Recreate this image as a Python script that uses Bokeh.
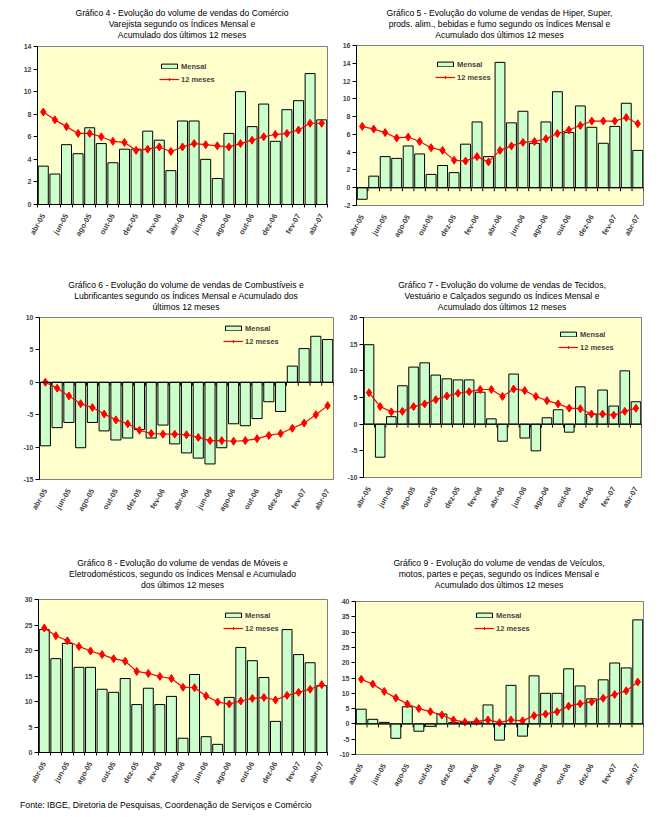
import math
from bokeh.plotting import figure
from bokeh.models import (ColumnDataSource, FixedTicker, Legend, LegendItem, Range1d,
                          Span, Div)
from bokeh.layouts import column, row
from bokeh.embed import file_html
from bokeh.resources import INLINE

months = ["abr-05", "mai-05", "jun-05", "jul-05", "ago-05", "set-05", "out-05", "nov-05",
          "dez-05", "jan-06", "fev-06", "mar-06", "abr-06", "mai-06", "jun-06", "jul-06",
          "ago-06", "set-06", "out-06", "nov-06", "dez-06", "jan-07", "fev-07", "mar-07",
          "abr-07"]

# Gráfico 4 - Comércio varejista
mensal4 = [3.4, 2.7, 5.3, 4.5, 6.8, 5.4, 3.7, 4.9, 4.9, 6.5, 5.7, 3.0, 7.4, 7.4, 4.0, 2.3,
           6.3, 10.0, 6.9, 8.9, 5.6, 8.4, 9.2, 11.6, 7.5]
acum4 = [8.2, 7.5, 6.9, 6.3, 6.3, 6.0, 5.6, 5.5, 4.8, 4.9, 5.1, 4.7, 5.1, 5.4, 5.3, 5.2,
         5.1, 5.4, 5.7, 6.0, 6.2, 6.3, 6.6, 7.2, 7.2]
# Gráfico 5 - Hiper, super
mensal5 = [-1.3, 1.3, 3.5, 3.3, 4.7, 3.8, 1.5, 2.5, 1.7, 4.9, 7.4, 3.5, 14.1, 7.3, 8.6, 5.0,
           7.4, 10.8, 6.2, 9.2, 6.8, 5.0, 6.9, 9.5, 4.2]
acum5 = [6.9, 6.6, 6.2, 5.6, 5.7, 5.2, 4.5, 4.2, 3.1, 3.0, 3.5, 2.9, 4.2, 4.7, 5.1, 5.2,
         5.5, 6.1, 6.5, 7.0, 7.5, 7.5, 7.5, 7.9, 7.2]
# Gráfico 6 - Combustíveis e lubrificantes
mensal6 = [-9.8, -7.0, -6.2, -10.1, -6.2, -7.5, -8.9, -8.6, -7.3, -8.6, -6.6, -9.5, -10.9,
           -11.7, -12.6, -10.1, -6.4, -6.7, -5.6, -3.0, -4.5, 2.5, 5.2, 7.1, 6.6]
acum6 = [0.0, -0.9, -2.1, -3.3, -3.9, -4.9, -5.8, -6.4, -7.4, -7.9, -8.0, -8.0, -8.1, -8.5,
         -9.0, -9.0, -9.1, -9.0, -8.7, -8.2, -7.9, -7.1, -6.3, -5.0, -3.6]
# Gráfico 7 - Tecidos, vestuário e calçados
mensal7 = [14.9, -6.2, 1.4, 7.2, 10.7, 11.5, 9.2, 8.5, 8.3, 8.3, 6.0, 1.0, -3.2, 9.4, -2.6,
           -5.0, 1.2, 2.7, -1.5, 7.0, 1.9, 6.4, 3.4, 10.0, 4.2]
acum7 = [5.9, 3.3, 2.3, 2.4, 3.3, 3.8, 4.6, 5.3, 5.8, 6.1, 6.5, 6.5, 5.2, 6.6, 6.3, 5.2,
         4.4, 3.8, 3.0, 2.9, 1.9, 1.9, 1.7, 2.4, 3.0]
# Gráfico 8 - Móveis e eletrodomésticos
mensal8 = [24.1, 18.4, 21.4, 16.7, 16.7, 12.4, 11.8, 14.5, 9.4, 12.6, 9.4, 11.0, 2.8, 15.3,
           3.1, 1.6, 10.8, 20.6, 18.0, 14.7, 6.1, 24.1, 19.2, 17.6, 13.1]
acum8 = [24.4, 22.9, 21.9, 20.8, 19.9, 19.2, 18.4, 17.9, 15.9, 15.5, 14.9, 14.5, 12.8, 12.7,
         11.1, 9.9, 9.5, 10.1, 10.6, 10.8, 10.3, 11.2, 11.8, 12.4, 13.3]
# Gráfico 9 - Veículos, motos, partes e peças
mensal9 = [4.8, 1.5, 0.5, -4.7, 5.6, -2.4, -0.8, 3.2, 0.4, 0.5, 0.6, 6.2, -5.3, 12.6, -4.0,
           15.7, 10.0, 10.0, 18.0, 12.4, 8.2, 14.4, 19.9, 18.3, 34.0]
acum9 = [14.6, 13.0, 10.6, 8.5, 6.5, 5.0, 4.0, 2.9, 1.3, 0.6, 0.8, 1.3, 0.4, 1.3, 1.0, 2.7,
         3.2, 4.0, 5.8, 6.6, 7.2, 8.4, 9.6, 10.8, 13.7]

titles = {
    4: ["Gráfico 4 - Evolução do volume de vendas do Comércio",
        "Varejista segundo os Índices Mensal e",
        "Acumulado dos últimos 12 meses"],
    5: ["Gráfico 5 - Evolução do volume de vendas de Hiper, Super,",
        "prods. alim., bebidas e fumo segundo os Índices Mensal e",
        "Acumulado dos últimos 12 meses"],
    6: ["Gráfico 6 - Evolução do volume de vendas de Combustíveis e",
        "Lubrificantes segundo os Índices Mensal e Acumulado dos",
        "últimos 12 meses"],
    7: ["Gráfico 7 - Evolução do volume de vendas de Tecidos,",
        "Vestuário e Calçados segundo os Índices Mensal e",
        "Acumulado dos últimos 12 meses"],
    8: ["Gráfico 8 - Evolução do volume de vendas de Móveis e",
        "Eletrodomésticos, segundo os Índices Mensal e Acumulado",
        "dos últimos 12 meses"],
    9: ["Gráfico 9 - Evolução do volume de vendas de Veículos,",
        "motos, partes e peças, segundo os Índices Mensal e",
        "Acumulado dos últimos 12 meses"],
}
source_text = "Fonte: IBGE, Diretoria de Pesquisas, Coordenação de Serviços e Comércio"
legend_labels = ["Mensal", "12 meses"]

FONT = "Liberation Sans"
BAR_FILL = "#CCFFCC"
BG = "#FFFFCC"
RED = "#FF0000"
LINE_H = 11


def make_chart(num, mensal, acum, ymin, ymax, ystep, width, height, borders, leg,
               title_pad):
    left, right, top, bottom = borders
    title_h = title_pad + 3 * LINE_H
    fig_h = height - title_h
    fh = fig_h - top - bottom
    n = len(months)
    xs = list(range(n))

    html = ("<div style='box-sizing:border-box;width:%dpx;padding-left:%dpx;"
            "padding-right:%dpx;padding-top:%dpx;text-align:center;font-family:\"%s\";"
            "font-size:8.6px;line-height:%dpx;color:black;white-space:nowrap;'>%s</div>"
            % (width, left, right, title_pad, FONT, LINE_H, "<br>".join(titles[num])))
    tdiv = Div(text=html, width=width, height=title_h, margin=(0, 0, 0, 0))

    p = figure(width=width, height=fig_h, output_backend="svg", toolbar_location=None,
               x_range=Range1d(-0.5, n - 0.5), y_range=Range1d(ymin, ymax),
               min_border_left=left, min_border_right=right,
               min_border_top=top, min_border_bottom=bottom, margin=(0, 0, 0, 0))
    p.background_fill_color = BG
    p.border_fill_color = "white"
    p.outline_line_color = "#808080"
    p.xgrid.visible = False
    p.ygrid.visible = False

    src = ColumnDataSource(dict(x=xs, m=mensal, a=acum))
    bars = p.vbar(x="x", top="m", bottom=0, width=0.86, source=src,
                  fill_color=BAR_FILL, line_color="black", line_width=1)
    ln = p.line(x="x", y="a", source=src, line_color=RED, line_width=1.2)
    sc = p.scatter(x="x", y="a", source=src, marker="diamond", size=8,
                   fill_color=RED, line_color=RED)

    # y axis
    yt = [ymin + i * ystep for i in range(int(round((ymax - ymin) / ystep)) + 1)]
    p.yaxis.ticker = FixedTicker(ticks=yt)
    p.yaxis.axis_line_color = "black"
    p.yaxis.major_tick_line_color = "black"
    p.yaxis.major_tick_out = 4
    p.yaxis.major_tick_in = 0
    p.yaxis.minor_tick_line_color = None
    p.yaxis.major_label_text_font = FONT
    p.yaxis.major_label_text_font_size = "7px"
    p.yaxis.major_label_text_font_style = "bold"
    p.yaxis.major_label_standoff = 2
    p.yaxis.major_label_overrides = {v: str(int(v)) for v in yt}

    # x axis
    major = [i for i in xs if i % 2 == 0]
    bounds = [i - 0.5 for i in range(n + 1)]
    p.xaxis.ticker = FixedTicker(ticks=major, minor_ticks=bounds)
    p.xaxis.major_label_overrides = {i: months[i] for i in major}
    p.xaxis.major_label_orientation = math.pi / 3
    p.xaxis.major_label_text_font = FONT
    p.xaxis.major_label_text_font_size = "7.5px"
    p.xaxis.major_label_text_font_style = "bold"
    p.xaxis.major_label_standoff = 4
    p.xaxis.major_tick_line_color = None
    if ymin >= 0:
        p.xaxis.axis_line_color = "black"
        p.xaxis.minor_tick_line_color = "black"
        p.xaxis.minor_tick_out = 3
        p.xaxis.minor_tick_in = 0
    else:
        p.xaxis.axis_line_color = None
        p.xaxis.minor_tick_line_color = None
        p.add_layout(Span(location=0, dimension="width", line_color="black", line_width=1))
        per_px = (ymax - ymin) / fh
        p.segment(x0=bounds, x1=bounds, y0=[0] * len(bounds),
                  y1=[-3.5 * per_px] * len(bounds), line_color="black", line_width=1)

    # legend
    rel_left, rel_center = leg
    item_h = 9
    spacing = 4
    leg_h = 2 * item_h + spacing
    loc_y = fh - (rel_center - item_h / 2) - leg_h
    legend = Legend(items=[LegendItem(label=legend_labels[0], renderers=[bars]),
                           LegendItem(label=legend_labels[1], renderers=[ln, sc])],
                    location=(rel_left, loc_y), orientation="vertical",
                    glyph_width=20, glyph_height=6, label_height=6,
                    label_standoff=2, spacing=spacing, padding=0, margin=0,
                    border_line_color=None, background_fill_alpha=0,
                    label_text_font=FONT, label_text_font_size="7.5px",
                    label_text_font_style="bold")
    p.add_layout(legend)
    return column(tdiv, p, spacing=0, margin=(0, 0, 0, 0))


c4 = make_chart(4, mensal4, acum4, 0, 14, 2, 323, 270, (29, 4, 5, 74), (122, 20), 0)
c5 = make_chart(5, mensal5, acum5, -2, 16, 2, 323, 270, (25, 11, 4, 73), (79, 19), 0)
c6 = make_chart(6, mensal6, acum6, -15, 10, 5, 326, 270, (31, 1, 4, 69), (184, 11), 2)
c7 = make_chart(7, mensal7, acum7, -10, 20, 5, 320, 270, (29, 13, 4, 71), (195, 17), 2)
c8 = make_chart(8, mensal8, acum8, 0, 30, 5, 323, 250, (30, 4, 8, 46), (185, 16), 10)
c9 = make_chart(9, mensal9, acum9, -10, 40, 5, 323, 250, (24, 11, 10, 44), (119, 14), 10)

src_div = Div(text=source_text, width=646, height=14, margin=(0, 0, 0, 0),
              styles={"font-family": FONT, "font-size": "8.7px", "padding-left": "12px",
                      "padding-top": "1px", "color": "black"})

layout = column(row(c4, c5, spacing=0), row(c6, c7, spacing=0), row(c8, c9, spacing=0),
                src_div, spacing=0, margin=(8, 0, 0, 8))

open("out.html", "w").write(file_html(layout, INLINE))
